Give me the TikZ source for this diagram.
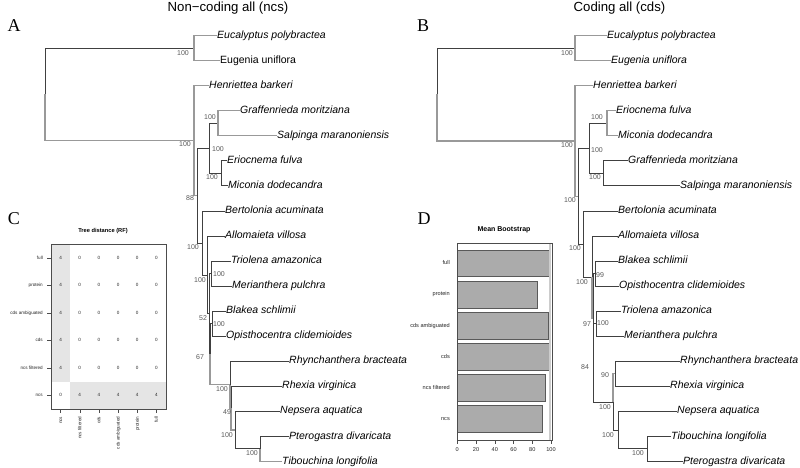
\documentclass[tikz,border=0pt]{standalone}
\usepackage{fontspec}
\setmainfont{Liberation Sans}
\newfontfamily\letterfont{Liberation Serif}
\tikzset{
  tip/.style={anchor=west, inner sep=0pt, text height=5.4pt, text depth=0pt, font=\fontsize{10.5}{12}\selectfont\itshape},
  tipup/.style={tip, font=\fontsize{10.5}{12}\selectfont},
  boot/.style={inner sep=0pt, text height=5pt, text depth=0pt, text=black!65, font=\fontsize{7}{8}\selectfont},
  br/.style={draw=black!75, line width=0.7pt},
  brg/.style={draw=black!40, line width=1.2pt},
  ttl/.style={inner sep=0pt, font=\fontsize{13.2}{15}\selectfont},
  letter/.style={inner sep=0pt, font=\letterfont\fontsize{18}{20}\selectfont},
  ptitle/.style={inner sep=0pt, font=\bfseries\fontsize{5.7}{7}\selectfont},
  small/.style={inner sep=0pt, text height=3pt, text depth=0pt, text=black!85, font=\fontsize{4.6}{5}\selectfont},
  bar/.style={fill=black!33, draw=black!65, line width=0.5pt}
}
\begin{document}
\begin{tikzpicture}[x=1pt,y=-1pt]
\useasboundingbox (0,0) rectangle (800,468);
\fill[white] (0,0) rectangle (800,468);

% titles and panel letters
\node[ttl] (tncs) at (228,8) {Non−coding all (ncs)};
\node[ttl] (tcds) at (619.5,8) {Coding all (cds)};
\node[letter] (pA) at (14,26) {A};
\node[letter] (pB) at (423,26) {B};
\node[letter] (pC) at (14,219) {C};
\node[letter] (pD) at (424,219) {D};

% tree A: non-coding
\node[tip] (lEuc) at (217,35.5) {Eucalyptus polybractea};
\node[tipup] (lEug) at (220,60.55) {Eugenia uniflora};
\node[tip] (lHen) at (209,85.6) {Henriettea barkeri};
\node[tip] (lGra) at (240,110.65) {Graffenrieda moritziana};
\node[tip] (lSal) at (277,135.7) {Salpinga maranoniensis};
\node[tip] (lEri) at (227,160.75) {Eriocnema fulva};
\node[tip] (lMic) at (228,185.8) {Miconia dodecandra};
\node[tip] (lBer) at (225,210.85) {Bertolonia acuminata};
\node[tip] (lAll) at (225,235.9) {Allomaieta villosa};
\node[tip] (lTri) at (231,260.95) {Triolena amazonica};
\node[tip] (lMer) at (232,286) {Merianthera pulchra};
\node[tip] (lBla) at (226,311.05) {Blakea schlimii};
\node[tip] (lOpi) at (226,336.1) {Opisthocentra clidemioides};
\node[tip] (lRhy) at (289,361.15) {Rhynchanthera bracteata};
\node[tip] (lRhe) at (282,386.2) {Rhexia virginica};
\node[tip] (lNep) at (280,411.25) {Nepsera aquatica};
\node[tip] (lPte) at (289,436.3) {Pterogastra divaricata};
\node[tip] (lTib) at (282,461.35) {Tibouchina longifolia};

\coordinate (lroot) at (45,94.3);
\coordinate (lOut) at (194,48);
\coordinate (lIng) at (194,140.6);
\coordinate (lA) at (197,195.6);
\coordinate (lB) at (209,148.2);
\coordinate (lGS) at (218,123.2);
\coordinate (lEM) at (221,173.3);
\coordinate (lC) at (202,242.9);
\coordinate (lD) at (207.5,274.9);
\coordinate (lE) at (209,313.8);
\coordinate (lTM) at (211.5,273.5);
\coordinate (lK) at (210,354.1);
\coordinate (lBO) at (212,323.6);
\coordinate (lG) at (230,384.6);
\coordinate (lX) at (231,408.1);
\coordinate (lY) at (235,430);
\coordinate (lZ) at (260,448.8);

\draw[br] (lOut) -| (lroot);
\draw[brg] (lIng) -| (lroot);
\draw[brg] (lEuc.west) -| (lOut);
\draw[brg] (lEug.west) -| (lOut);
\draw[brg] (lHen.west) -| (lIng);
\draw[brg] (lA) -| (lIng);
\draw[br] (lB) -| (lA);
\draw[br] (lC) -| (lA);
\draw[br] (lGS) -| (lB);
\draw[brg] (lGra.west) -| (lGS);
\draw[brg] (lSal.west) -| (lGS);
\draw[br] (lEM) -| (lB);
\draw[br] (lEri.west) -| (lEM);
\draw[br] (lMic.west) -| (lEM);
\draw[br] (lBer.west) -| (lC);
\draw[br] (lD) -| (lC);
\draw[br] (lAll.west) -| (lD);
\draw[br] (lE) -| (lD);
\draw[br] (lTM) -| (lE);
\draw[br] (lK) -| (lE);
\draw[br] (lTri.west) -| (lTM);
\draw[br] (lMer.west) -| (lTM);
\draw[br] (lBO) -| (lK);
\draw[brg] (lG) -| (lK);
\draw[br] (lBla.west) -| (lBO);
\draw[br] (lOpi.west) -| (lBO);
\draw[br] (lRhy.west) -| (lG);
\draw[brg] (lX) -| (lG);
\draw[br] (lRhe.west) -| (lX);
\draw[brg] (lY) -| (lX);
\draw[br] (lNep.west) -| (lY);
\draw[br] (lZ) -| (lY);
\draw[br] (lPte.west) -| (lZ);
\draw[brg] (lTib.west) -| (lZ);

\node[boot] (lbOut) at (183,53) {100};
\node[boot] (lbIng) at (185,144) {100};
\node[boot] (lbGS) at (210,117) {100};
\node[boot] (lbB) at (218,149) {100};
\node[boot] (lbEM) at (212,177) {100};
\node[boot] (lbA) at (190,198) {88};
\node[boot] (lbC) at (193,247) {100};
\node[boot] (lbD) at (200,280) {100};
\node[boot] (lbTM) at (219,274) {100};
\node[boot] (lbE) at (203,318) {52};
\node[boot] (lbBO) at (219,324) {100};
\node[boot] (lbK) at (200,357) {67};
\node[boot] (lbG) at (222,389) {100};
\node[boot] (lbX) at (227,412) {49};
\node[boot] (lbY) at (227,435) {100};
\node[boot] (lbZ) at (252,453) {100};

% tree B: coding
\node[tip] (rEuc) at (607,35.5) {Eucalyptus polybractea};
\node[tip] (rEug) at (611,60.55) {Eugenia uniflora};
\node[tip] (rHen) at (593,85.6) {Henriettea barkeri};
\node[tip] (rEri) at (616,110.65) {Eriocnema fulva};
\node[tip] (rMic) at (618,135.7) {Miconia dodecandra};
\node[tip] (rGra) at (628,160.75) {Graffenrieda moritziana};
\node[tip] (rSal) at (680,185.8) {Salpinga maranoniensis};
\node[tip] (rBer) at (618,210.85) {Bertolonia acuminata};
\node[tip] (rAll) at (618,235.9) {Allomaieta villosa};
\node[tip] (rBla) at (618,260.95) {Blakea schlimii};
\node[tip] (rOpi) at (619,286) {Opisthocentra clidemioides};
\node[tip] (rTri) at (621,311.05) {Triolena amazonica};
\node[tip] (rMer) at (624,336.1) {Merianthera pulchra};
\node[tip] (rRhy) at (680,361.15) {Rhynchanthera bracteata};
\node[tip] (rRhe) at (670,386.2) {Rhexia virginica};
\node[tip] (rNep) at (677,411.25) {Nepsera aquatica};
\node[tip] (rTib) at (671,436.3) {Tibouchina longifolia};
\node[tip] (rPte) at (683,461.35) {Pterogastra divaricata};

\coordinate (rroot) at (437,94.4);
\coordinate (rOut) at (575,48);
\coordinate (rIng) at (575,140.9);
\coordinate (rA) at (578,196.1);
\coordinate (rB) at (589,148.2);
\coordinate (rEM) at (607,123.2);
\coordinate (rGS) at (603,173.3);
\coordinate (rC) at (583,243.9);
\coordinate (rD) at (592,277);
\coordinate (rE) at (593,318.1);
\coordinate (rBO) at (595,273.5);
\coordinate (rK) at (593.5,362.7);
\coordinate (rTM) at (596,323.6);
\coordinate (rG) at (613,401.9);
\coordinate (rRR) at (615,373.7);
\coordinate (rNTP) at (618,430);
\coordinate (rTP) at (647,448.8);

\draw[br] (rOut) -| (rroot);
\draw[brg] (rIng) -| (rroot);
\draw[brg] (rEuc.west) -| (rOut);
\draw[brg] (rEug.west) -| (rOut);
\draw[brg] (rHen.west) -| (rIng);
\draw[brg] (rA) -| (rIng);
\draw[br] (rB) -| (rA);
\draw[br] (rC) -| (rA);
\draw[br] (rEM) -| (rB);
\draw[brg] (rEri.west) -| (rEM);
\draw[brg] (rMic.west) -| (rEM);
\draw[br] (rGS) -| (rB);
\draw[br] (rGra.west) -| (rGS);
\draw[br] (rSal.west) -| (rGS);
\draw[br] (rBer.west) -| (rC);
\draw[br] (rD) -| (rC);
\draw[br] (rAll.west) -| (rD);
\draw[brg] (rE) -| (rD);
\draw[br] (rBO) -| (rE);
\draw[br] (rK) -| (rE);
\draw[br] (rBla.west) -| (rBO);
\draw[br] (rOpi.west) -| (rBO);
\draw[br] (rTM) -| (rK);
\draw[br] (rG) -| (rK);
\draw[br] (rTri.west) -| (rTM);
\draw[br] (rMer.west) -| (rTM);
\draw[brg] (rRR) -| (rG);
\draw[br] (rNTP) -| (rG);
\draw[br] (rRhy.west) -| (rRR);
\draw[br] (rRhe.west) -| (rRR);
\draw[br] (rNep.west) -| (rNTP);
\draw[br] (rTP) -| (rNTP);
\draw[br] (rTib.west) -| (rTP);
\draw[br] (rPte.west) -| (rTP);

\node[boot] (rbOut) at (567,53) {100};
\node[boot] (rbIng) at (567,145) {100};
\node[boot] (rbEM) at (597,117) {100};
\node[boot] (rbB) at (597,150) {100};
\node[boot] (rbGS) at (595,177) {100};
\node[boot] (rbA) at (570,200) {100};
\node[boot] (rbC) at (575,248) {100};
\node[boot] (rbD) at (582,282) {100};
\node[boot] (rbBO) at (600,275) {99};
\node[boot] (rbE) at (587,324) {97};
\node[boot] (rbTM) at (603,323) {100};
\node[boot] (rbK) at (585,367) {84};
\node[boot] (rbRR) at (605,375) {90};
\node[boot] (rbG) at (605,407) {100};
\node[boot] (rbNTP) at (608,435) {100};
\node[boot] (rbTP) at (638,453) {100};

% panel C: tree distance
\node[ptitle] (hT) at (103,231) {Tree distance (RF)};
\fill[black!10] (51,244) rectangle (70.17,381.5);
\fill[black!10] (70.17,381.5) rectangle (166,409);
\draw[black!70, line width=0.4pt] (51,244) rectangle (166,409);
\foreach \lab [count=\r] in {full,protein,cds ambiguated,cds,ncs filtered,ncs} {
  \node[small, anchor=east] (hy\r) at (43,{244+27.5*(\r-0.5)}) {\lab};
  \draw[black!70, line width=0.4pt] (47,{244+27.5*(\r-0.5)}) -- (51,{244+27.5*(\r-0.5)});
}
\foreach \lab [count=\c] in {ncs,ncs filtered,cds,cds ambiguated,protein,full} {
  \node[small, rotate=90, anchor=east] (hx\c) at ({51+19.17*(\c-0.5)},416.5) {\lab};
  \draw[black!70, line width=0.4pt] ({51+19.17*(\c-0.5)},409) -- ({51+19.17*(\c-0.5)},413);
}
\foreach \r/\vals in {1/{4,0,0,0,0,0},2/{4,0,0,0,0,0},3/{4,0,0,0,0,0},4/{4,0,0,0,0,0},5/{4,0,0,0,0,0},6/{0,4,4,4,4,4}}
  \foreach \v [count=\c] in \vals
    \node[small] (hc\r\c) at ({51+19.17*(\c-0.5)},{244+27.5*(\r-0.5)}) {\v};

% panel D: mean bootstrap
\node[ptitle, font=\bfseries\fontsize{7}{8}\selectfont] (bT) at (504,230) {Mean Bootstrap};
\foreach \lab/\v [count=\r] in {full/97.9,protein/85.8,cds ambiguated/97.1,cds/97.9,ncs filtered/94.3,ncs/91.1} {
  \draw[bar] (457.3,{250+31.1*(\r-1)}) rectangle ({457.3+0.937*\v},{276.7+31.1*(\r-1)});
  \node[small, anchor=east, font=\fontsize{5.6}{6}\selectfont] (by\r) at (450,{263.3+31.1*(\r-1)}) {\lab};
}
\draw[black!20, line width=1.5pt] (550,243) -- (550,439.5);
\draw[black!70, line width=0.4pt] (457.3,242.7) rectangle (552,440);
\foreach \t in {0,20,...,100} {
  \draw[black!70, line width=0.4pt] ({457.3+0.937*\t},440) -- ({457.3+0.937*\t},443.5);
  \node[small, font=\fontsize{5.6}{6}\selectfont] (bx\t) at ({457.3+0.937*\t},449.5) {\t};
}
\end{tikzpicture}
\end{document}
